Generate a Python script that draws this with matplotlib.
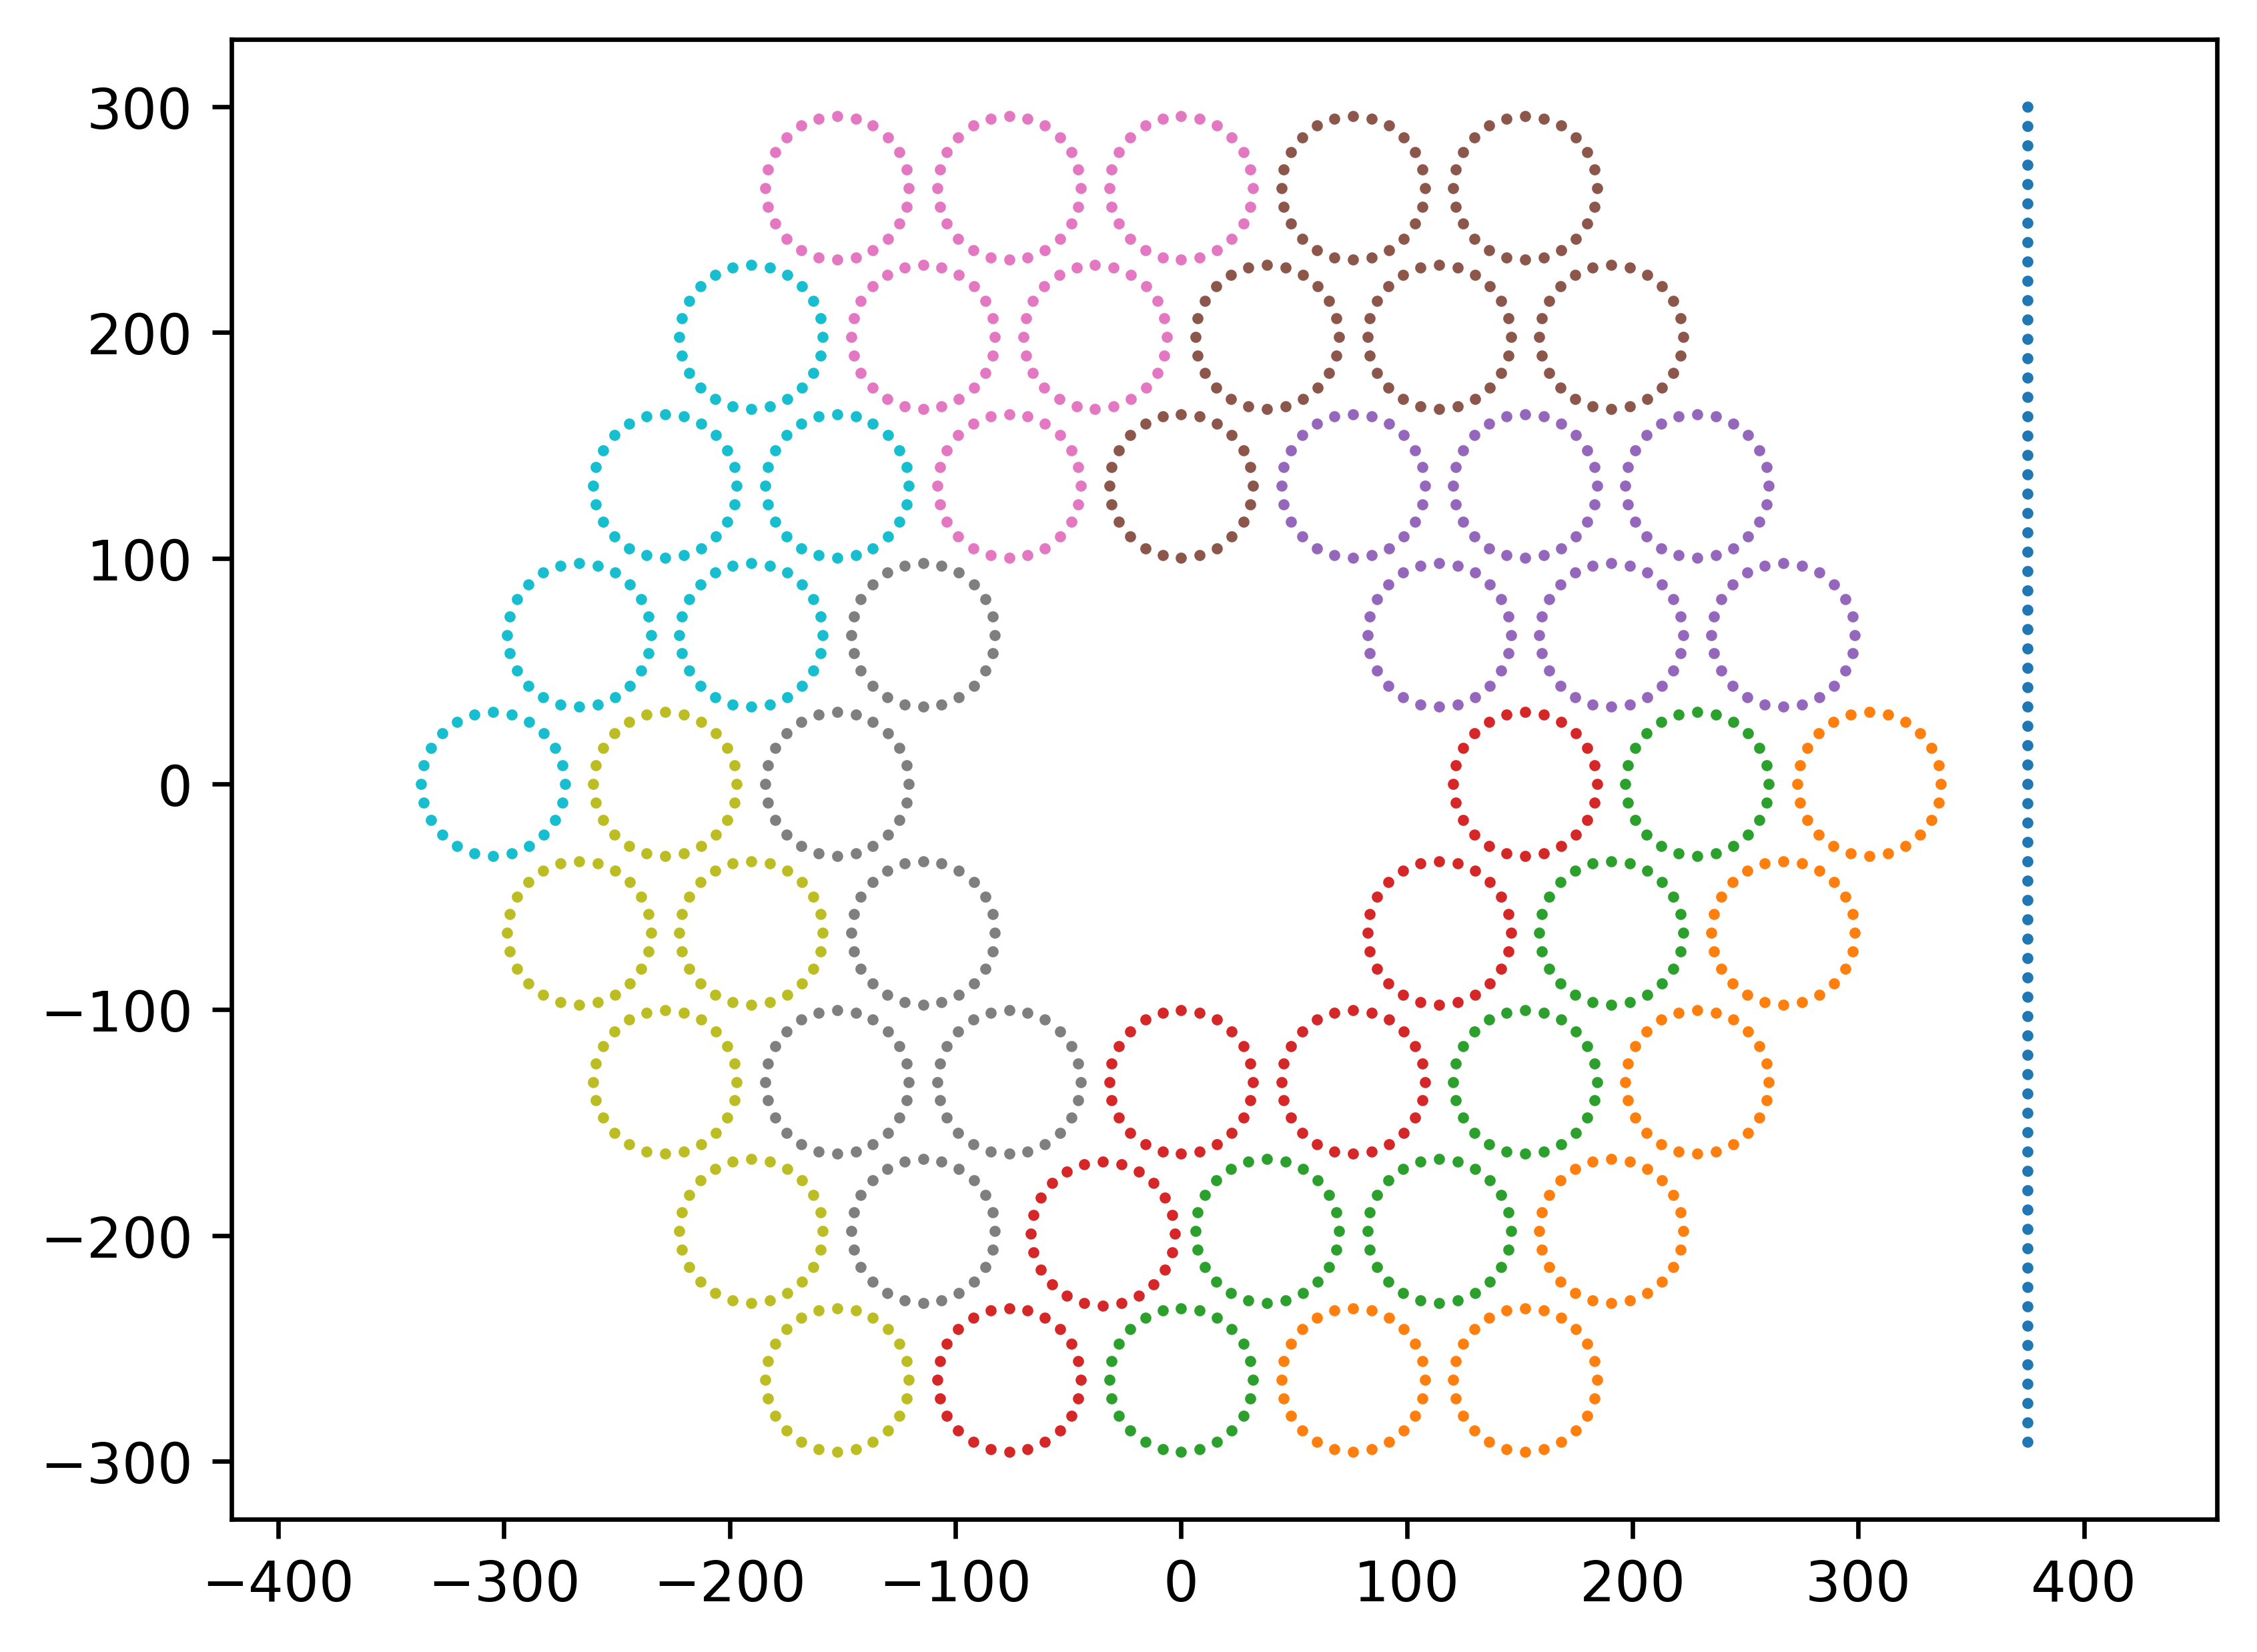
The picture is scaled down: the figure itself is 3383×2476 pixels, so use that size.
import numpy as np
import matplotlib
matplotlib.use('Agg')
import matplotlib.pyplot as plt

# ============================================================
# Data
# ============================================================
radius = 31.8          # circle radius, data units
n_dots = 24            # dots per circle, every 15 degrees

# vertical dotted column
line_x = 375.0
line_y_top, line_y_bottom, line_n = 300.0, -291.4, 70

# circle centres, one group per colour (C1..C9)
orange_x = [304.8, 266.7, 228.6, 190.5, 76.2, 152.4]
orange_y = [0, -66, -132, -198, -264, -264]

green_x = [228.6, 190.5, 152.4, 38.1, 114.3, 0.0]
green_y = [0, -66, -132, -198, -198, -264]

red_x = [152.4, 114.3, 0.0, 76.2, -34.7, -76.2]
red_y = [0, -66, -132, -132, -199.2, -264]

purple_x = [76.2, 152.4, 228.6, 114.3, 190.5, 266.7]
purple_y = [132, 132, 132, 66, 66, 66]

brown_x = [76.2, 152.4, 38.1, 114.3, 190.5, 0.0]
brown_y = [264, 264, 198, 198, 198, 132]

pink_x = [-152.4, -76.2, 0.0, -114.3, -38.1, -76.2]
pink_y = [264, 264, 264, 198, 198, 132]

gray_x = [-114.3, -152.4, -114.3, -152.4, -76.2, -114.3]
gray_y = [66, 0, -66, -132, -132, -198]

olive_x = [-228.6, -266.7, -190.5, -228.6, -190.5, -152.4]
olive_y = [0, -66, -66, -132, -198, -264]

cyan_x = [-190.5, -228.6, -152.4, -266.7, -190.5, -304.8]
cyan_y = [198, 132, 132, 66, 66, 0]

groups = [
    (orange_x, orange_y), (green_x, green_y), (red_x, red_y),
    (purple_x, purple_y), (brown_x, brown_y), (pink_x, pink_y),
    (gray_x, gray_y), (olive_x, olive_y), (cyan_x, cyan_y),
]

# ============================================================
# Plot
# ============================================================
fig, ax = plt.subplots(figsize=(6.4, 4.8))

ly = np.linspace(line_y_top, line_y_bottom, line_n)
ax.scatter(np.full(line_n, line_x), ly, s=1)

theta = np.deg2rad(np.arange(n_dots) * 360.0 / n_dots)
for cx, cy in groups:
    xs, ys = [], []
    for x0, y0 in zip(cx, cy):
        xs.extend(x0 + radius * np.cos(theta))
        ys.extend(y0 + radius * np.sin(theta))
    ax.scatter(xs, ys, s=1)

ax.axis('equal')

plt.savefig('out.png', dpi=600, bbox_inches='tight')
